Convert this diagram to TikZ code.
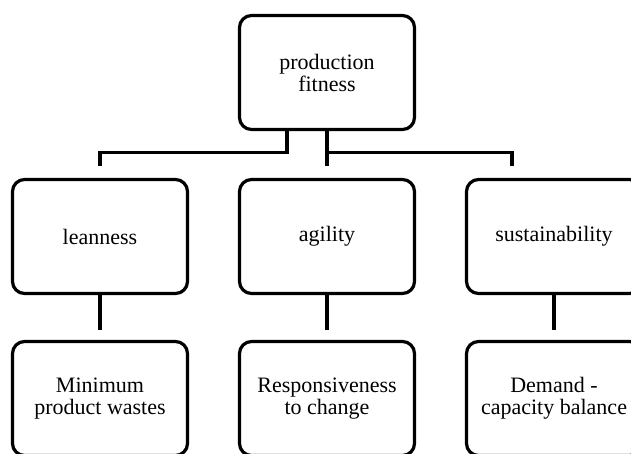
\documentclass[tikz,border=0pt]{standalone}
\usepackage{fontspec}
\setmainfont{Liberation Serif}
\tikzset{
  box/.style={draw, line width=3.2pt, rounded corners=12pt, minimum width=175pt,
    minimum height=114pt, inner sep=0pt, align=center,
    font=\fontsize{22}{22}\selectfont},
  conn/.style={line width=3.2pt},
}
\begin{document}
\begin{tikzpicture}[x=1pt,y=-1pt]
  \useasboundingbox (0,0) rectangle (631,453);
  \clip (0,0) rectangle (631,453);

  % Le sommet
  \coordinate (C0) at (327,72.5);

  % Le niveau du milieu
  \coordinate (C1) at (100,236.5);
  \coordinate (C2) at (327,236.5);
  \coordinate (C3) at (554,236.5);

  % Le niveau du bas (coupe par le bord)
  \coordinate (D1) at (100,398.5);
  \coordinate (D2) at (327,398.5);
  \coordinate (D3) at (554,398.5);

  \node[box] (fitness) at (C0) {production\\fitness};
  \node[box] (lean) at (C1) {leanness};
  \node[box] (agil) at (C2) {agility};
  \node[box] (sust) at (C3) {sustainability};
  \node[box] (wastes) at (D1) {Minimum\\product wastes};
  \node[box] (change) at (D2) {Responsiveness\\to change};
  \node[box] (balance) at (D3) {Demand -\\capacity balance};

  % Les liaisons du haut
  \coordinate (split) at ([yshift=-21.5pt]fitness.south);
  \draw[conn] ([xshift=-40pt]fitness.south) -- ++(0,21.5) -| ([yshift=11.5pt]lean.north);
  \draw[conn] (fitness.south) -- ([yshift=11.5pt]agil.north);
  \draw[conn] (split) -| ([xshift=-42pt,yshift=11.5pt]sust.north);

  % Les liaisons du bas
  \draw[conn] (lean.south) -- ([yshift=9.5pt]wastes.north);
  \draw[conn] (agil.south) -- ([yshift=9.5pt]change.north);
  \draw[conn] (sust.south) -- ([yshift=9.5pt]balance.north);
\end{tikzpicture}
\end{document}
